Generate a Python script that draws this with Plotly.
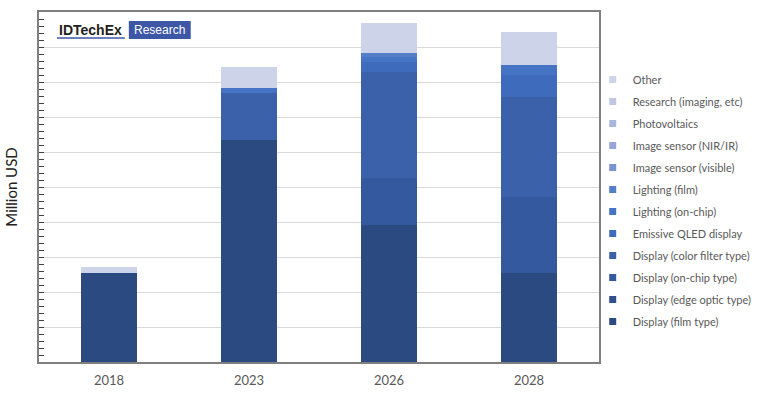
import plotly.graph_objects as go

years = ["2018", "2023", "2026", "2028"]
series_names = [
    "Display (film type)",
    "Display (edge optic type)",
    "Display (on-chip type)",
    "Display (color filter type)",
    "Emissive QLED display",
    "Lighting (on-chip)",
    "Lighting (film)",
    "Image sensor (visible)",
    "Image sensor (NIR/IR)",
    "Photovoltaics",
    "Research (imaging, etc)",
    "Other",
]
film = [254, 634, 391, 254]
edge_optic = [0, 0, 0, 0]
on_chip = [0, 0, 134, 217]
color_filter = [0, 134, 303, 286]
emissive = [0, 0, 29, 63]
lighting_chip = [0, 14, 14, 29]
lighting_film = [0, 0, 11, 0]
sensor_vis = [0, 0, 0, 0]
sensor_nir = [0, 0, 0, 0]
photovoltaics = [0, 0, 0, 0]
research = [0, 0, 0, 0]
other = [18, 60, 86, 94]
series_values = [film, edge_optic, on_chip, color_filter, emissive, lighting_chip,
                 lighting_film, sensor_vis, sensor_nir, photovoltaics, research, other]
colors = ["#2C4A82", "#304F8F", "#35599E", "#3A61AA", "#3F6BBD", "#4674C4",
          "#557EC8", "#7D93CF", "#97A6D7", "#AAB6DD", "#BFC7E4", "#CDD4E9"]

fig = go.Figure()
for name, vals, col in zip(series_names, series_values, colors):
    fig.add_trace(go.Bar(x=years, y=vals, name=name, marker_color=col,
                         marker_line_width=0, width=0.4, showlegend=False))
# legend entries, top (Other) to bottom (Display film type)
for name, col in zip(series_names[::-1], colors[::-1]):
    fig.add_trace(go.Scatter(x=[None], y=[None], mode="markers", name=name,
                             legendgroup=name,
                             marker=dict(symbol="square", size=7, color=col)))

fig.update_layout(
    width=768, height=396,
    margin=dict(l=39, r=168, t=12, b=34),
    barmode="stack",
    plot_bgcolor="white", paper_bgcolor="white",
    font=dict(family="Lato", color="#595959"),
    legend=dict(x=0.987, y=(362 - 65) / 350, xanchor="left", yanchor="top",
                traceorder="grouped", tracegroupgap=3,
                font=dict(size=11, color="#595959", family="Lato"),
                itemwidth=30, bgcolor="rgba(0,0,0,0)"),
    xaxis=dict(showline=True, linecolor="#7F7F7F", linewidth=2, mirror=True,
               ticks="", ticklabelstandoff=5, automargin=False,
               tickfont=dict(size=13, color="#595959", family="Lato")),
    yaxis=dict(range=[0, 1000], dtick=100, showticklabels=False, automargin=False,
               showgrid=True, gridcolor="#D9D9D9", gridwidth=1,
               showline=True, linecolor="#7F7F7F", linewidth=2, mirror=True,
               ticks="inside", ticklen=5, tickcolor="#404040",
               minor=dict(dtick=20, ticks="inside", ticklen=5, tickcolor="#404040", showgrid=False),
               title=dict(text="Million USD", font=dict(size=15, color="#222222", family="Lato"),
                          standoff=16),
               zeroline=False),
)

# Logo
fig.add_annotation(xref="paper", yref="paper", x=(57 - 39) / 561, y=(362 - 30) / 350,
                   xanchor="left", yanchor="middle", showarrow=False,
                   text="<b>IDTechEx</b>",
                   font=dict(family="Liberation Sans", size=14, color="#231F20"))
fig.add_shape(type="line", xref="paper", yref="paper",
              x0=(57 - 39) / 561, x1=(125 - 39) / 561,
              y0=(362 - 38) / 350, y1=(362 - 38) / 350,
              line=dict(color="#3D56A6", width=1.5))
fig.add_shape(type="rect", xref="paper", yref="paper",
              x0=(129 - 39) / 561, x1=(191 - 39) / 561,
              y0=(362 - 39) / 350, y1=(362 - 21) / 350,
              fillcolor="#3D56A6", line=dict(width=0))
fig.add_annotation(xref="paper", yref="paper", x=(160 - 39) / 561, y=(362 - 30) / 350,
                   xanchor="center", yanchor="middle", showarrow=False,
                   text="Research",
                   font=dict(family="Liberation Sans", size=12, color="white"))

fig.write_html("out.html", config={"displayModeBar": False},
               post_script="document.body.style.margin='0px';")
